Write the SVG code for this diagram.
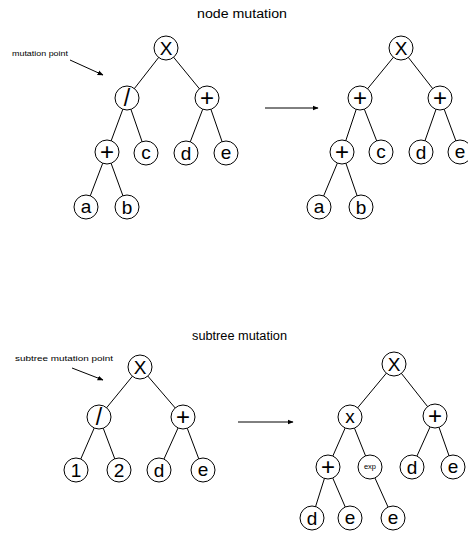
<svg xmlns="http://www.w3.org/2000/svg" width="468" height="535" viewBox="0 0 468 535">
<style>
  .n circle{fill:#fff;stroke:#000;stroke-width:1}
  .n text{font-family:"Liberation Sans",Arial,sans-serif;font-size:19px;text-anchor:middle;dominant-baseline:central;fill:#000}
  .n text.p{font-size:24px}
  .n text.sl{font-size:23px}
  .n text.s{font-size:7.5px}
  .e line{stroke:#000;stroke-width:1}
  .t{font-family:"Liberation Sans",Arial,sans-serif;fill:#000}
  .ar{stroke:#000;stroke-width:1.3;fill:none}
</style>
<defs>
  <marker id="ah" viewBox="0 0 10 10" refX="9" refY="5" markerWidth="6" markerHeight="6" orient="auto" markerUnits="userSpaceOnUse">
    <path d="M0,1 L10,5 L0,9 Z" fill="#000"/>
  </marker>
</defs>
<rect width="468" height="535" fill="#fff"/>
<text class="t" x="197" y="18" font-size="12.5" textLength="90" lengthAdjust="spacingAndGlyphs">node mutation</text>
<text class="t" x="192" y="340" font-size="12.5" textLength="95" lengthAdjust="spacingAndGlyphs">subtree mutation</text>
<text class="t" x="12" y="56" font-size="7.5" textLength="56" lengthAdjust="spacingAndGlyphs">mutation point</text>
<text class="t" x="15" y="361" font-size="7.5" textLength="98" lengthAdjust="spacingAndGlyphs">subtree mutation point</text>
<g id="connectors" class="e">
  <line x1="70" y1="60" x2="103" y2="75" class="ar" stroke-width="1" marker-end="url(#ah)"/>
  <line x1="72" y1="368" x2="103" y2="380" class="ar" stroke-width="1" marker-end="url(#ah)"/>
  <line x1="265" y1="108" x2="318" y2="108" class="ar" marker-end="url(#ah)"/>
  <line x1="238" y1="422" x2="293" y2="422" class="ar" marker-end="url(#ah)"/>
  <line x1="166" y1="48" x2="127" y2="98"/>
  <line x1="166" y1="48" x2="207" y2="98"/>
  <line x1="127" y1="98" x2="107" y2="152"/>
  <line x1="127" y1="98" x2="146" y2="153"/>
  <line x1="207" y1="98" x2="186" y2="153"/>
  <line x1="207" y1="98" x2="226" y2="153"/>
  <line x1="107" y1="152" x2="86" y2="207"/>
  <line x1="107" y1="152" x2="127" y2="207"/>
  <line x1="401" y1="48" x2="360" y2="98"/>
  <line x1="401" y1="48" x2="440" y2="98"/>
  <line x1="360" y1="98" x2="342" y2="152"/>
  <line x1="360" y1="98" x2="381" y2="152"/>
  <line x1="440" y1="98" x2="421" y2="152"/>
  <line x1="440" y1="98" x2="460" y2="152"/>
  <line x1="342" y1="152" x2="319" y2="207"/>
  <line x1="342" y1="152" x2="361" y2="207"/>
  <line x1="140" y1="367" x2="99" y2="417"/>
  <line x1="140" y1="367" x2="183" y2="417"/>
  <line x1="99" y1="417" x2="76" y2="470"/>
  <line x1="99" y1="417" x2="119" y2="470"/>
  <line x1="183" y1="417" x2="159" y2="470"/>
  <line x1="183" y1="417" x2="203" y2="470"/>
  <line x1="394" y1="364" x2="350" y2="417"/>
  <line x1="394" y1="364" x2="435" y2="416"/>
  <line x1="350" y1="417" x2="328" y2="467"/>
  <line x1="350" y1="417" x2="370" y2="467"/>
  <line x1="435" y1="416" x2="412" y2="467"/>
  <line x1="435" y1="416" x2="453" y2="467"/>
  <line x1="328" y1="467" x2="312" y2="518"/>
  <line x1="328" y1="467" x2="350" y2="518"/>
  <line x1="370" y1="467" x2="393" y2="518"/>
</g>
<g id="tl-x" class="n"><circle cx="166" cy="48" r="12"/><text x="166" y="48">X</text></g>
<g id="tl-div" class="n"><circle cx="127" cy="98" r="12"/><text class="sl" x="127" y="98">/</text></g>
<g id="tl-plus1" class="n"><circle cx="207" cy="98" r="12"/><text class="p" x="207" y="97">+</text></g>
<g id="tl-plus2" class="n"><circle cx="107" cy="152" r="12"/><text class="p" x="107" y="151">+</text></g>
<g id="tl-c" class="n"><circle cx="146" cy="153" r="12"/><text x="146" y="152">c</text></g>
<g id="tl-d" class="n"><circle cx="186" cy="153" r="12"/><text x="186" y="153">d</text></g>
<g id="tl-e" class="n"><circle cx="226" cy="153" r="12"/><text x="226" y="152">e</text></g>
<g id="tl-a" class="n"><circle cx="86" cy="207" r="12"/><text x="86" y="206">a</text></g>
<g id="tl-b" class="n"><circle cx="127" cy="207" r="12"/><text x="127" y="207">b</text></g>
<g id="tr-x" class="n"><circle cx="401" cy="48" r="12"/><text x="401" y="48">X</text></g>
<g id="tr-plus0" class="n"><circle cx="360" cy="98" r="12"/><text class="p" x="360" y="97">+</text></g>
<g id="tr-plus1" class="n"><circle cx="440" cy="98" r="12"/><text class="p" x="440" y="97">+</text></g>
<g id="tr-plus2" class="n"><circle cx="342" cy="152" r="12"/><text class="p" x="342" y="151">+</text></g>
<g id="tr-c" class="n"><circle cx="381" cy="152" r="12"/><text x="381" y="151">c</text></g>
<g id="tr-d" class="n"><circle cx="421" cy="152" r="12"/><text x="421" y="152">d</text></g>
<g id="tr-e" class="n"><circle cx="460" cy="152" r="12"/><text x="460" y="151">e</text></g>
<g id="tr-a" class="n"><circle cx="319" cy="207" r="12"/><text x="319" y="206">a</text></g>
<g id="tr-b" class="n"><circle cx="361" cy="207" r="12"/><text x="361" y="207">b</text></g>
<g id="bl-x" class="n"><circle cx="140" cy="367" r="12"/><text x="140" y="367">X</text></g>
<g id="bl-div" class="n"><circle cx="99" cy="417" r="12"/><text class="sl" x="99" y="417">/</text></g>
<g id="bl-plus" class="n"><circle cx="183" cy="417" r="12"/><text class="p" x="183" y="416">+</text></g>
<g id="bl-1" class="n"><circle cx="76" cy="470" r="12"/><text x="76" y="470">1</text></g>
<g id="bl-2" class="n"><circle cx="119" cy="470" r="12"/><text x="119" y="470">2</text></g>
<g id="bl-d" class="n"><circle cx="159" cy="470" r="12"/><text x="159" y="470">d</text></g>
<g id="bl-e" class="n"><circle cx="203" cy="470" r="12"/><text x="203" y="469">e</text></g>
<g id="br-x" class="n"><circle cx="394" cy="364" r="12"/><text x="394" y="364">X</text></g>
<g id="br-mul" class="n"><circle cx="350" cy="417" r="12"/><text x="350" y="416">x</text></g>
<g id="br-plus1" class="n"><circle cx="435" cy="416" r="12"/><text class="p" x="435" y="415">+</text></g>
<g id="br-plus2" class="n"><circle cx="328" cy="467" r="12"/><text class="p" x="328" y="466">+</text></g>
<g id="br-exp" class="n"><circle cx="370" cy="467" r="12"/><text class="s" x="370" y="466">exp</text></g>
<g id="br-d1" class="n"><circle cx="412" cy="467" r="12"/><text x="412" y="467">d</text></g>
<g id="br-e1" class="n"><circle cx="453" cy="467" r="12"/><text x="453" y="466">e</text></g>
<g id="br-d2" class="n"><circle cx="312" cy="518" r="12"/><text x="312" y="518">d</text></g>
<g id="br-e2" class="n"><circle cx="350" cy="518" r="12"/><text x="350" y="517">e</text></g>
<g id="br-e3" class="n"><circle cx="393" cy="518" r="12"/><text x="393" y="517">e</text></g>
</svg>
